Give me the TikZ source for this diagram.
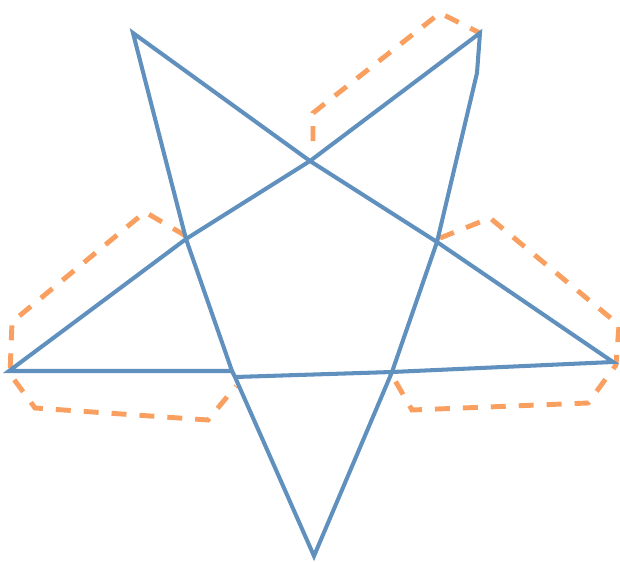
\documentclass[tikz,border=0pt]{standalone}
\usetikzlibrary{positioning}
\definecolor{StarBlue}{HTML}{6090BE}
\definecolor{HullOrange}{HTML}{F9A060}

\begin{document}
\begin{tikzpicture}[
  x=0.02cm, y=-0.02cm,
  star/.style={draw=StarBlue, line width=2.3pt, line join=miter},
  hull/.style={draw=HullOrange, line width=2.8pt, dash pattern=on 8.5pt off 7.4pt}
]
\useasboundingbox (0,0) rectangle (620,562);
% star corners
\coordinate (tl) at (133,33);
\coordinate (tr) at (480,33);
\coordinate (lft) at (9,371);
\coordinate (rgt) at (613,362);
\coordinate (bot) at (314,556);
% crossings
\coordinate (p1) at (186,239);
\coordinate (q1) at (232,371);
\coordinate (q2) at (235,377);
\coordinate (p3) at (392,372);
\coordinate (p4) at (437,242);
\coordinate (p5) at (477,73);
\coordinate (p6) at (310,161);
% dashed outlines
\draw[hull] (313,141) -- (313,113) -- (440,13) -- (tr);
\draw[hull] (186,236) -- (145,212) -- (12,322) -- (10,374) -- (35,408)
  -- (208,420) -- (236,386);
\draw[hull] (440,238) -- (490,218) -- (619,325) -- (616,365) -- (588,403)
  -- (412,410) -- (393,377);
% star
\draw[star] (tl) -- (p1) -- (q1) -- (q2) -- (bot) -- (p3) -- (p4) -- (p5)
  -- (tr) -- (p6) -- (p1) -- (lft) -- (q1) -- (q2) -- (p3) -- (rgt)
  -- (p4) -- (p6) -- cycle;
\end{tikzpicture}
\end{document}
